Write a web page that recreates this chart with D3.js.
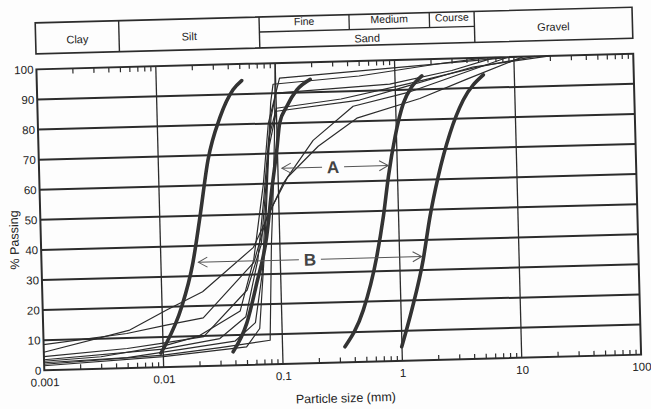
<!DOCTYPE html>
<html><head><meta charset="utf-8">
<script src="https://cdn.jsdelivr.net/npm/d3@7"></script>
<style>
body{margin:0;background:#fff}
svg{display:block}
text{font-family:"Liberation Sans",Arial,sans-serif;fill:#222}
</style>
</head><body>
<svg id="chart" width="651" height="409"></svg>
<script>
// ---------- data ----------
const xTickValues = [0.001, 0.01, 0.1, 1, 10, 100];
const xTickLabels = ["0.001", "0.01", "0.1", "1", "10", "100"];
const yTickValues = [0, 10, 20, 30, 40, 50, 60, 70, 80, 90, 100];
const soilClasses = ["Clay", "Silt", "Sand", "Gravel"];
const soilBounds  = [0.001, 0.005, 0.075, 4.75, 100];
const sandClasses = ["Fine", "Medium", "Course"];
const sandBounds  = [0.075, 0.425, 2, 4.75];

// bold gradation curves: [particle size mm, % passing]
const bold1 = [[0.00955,4.7],[0.0107,8],[0.0146,19.9],[0.0185,34.3],[0.0217,49.5],[0.0261,68.4],[0.0337,82.6],[0.0438,91.5],[0.052,94.5]];
const bold2 = [[0.0385,4.5],[0.0507,13.8],[0.0627,27],[0.0778,42.4],[0.0879,57.9],[0.0988,71.1],[0.106,80.1],[0.122,85.4],[0.15,90.9],[0.195,94.3]];
const bold3 = [[0.333,5.2],[0.483,17.2],[0.643,34.8],[0.745,48],[0.838,61.3],[0.973,74.5],[1.16,85.5],[1.38,91],[1.68,94.5]];
const bold4 = [[0.995,4.7],[1.23,16.8],[1.57,33.3],[1.83,47.6],[2.19,60.9],[2.81,75.2],[3.69,86.1],[5.5,94.3]];

// thin gradation curves
const thin1 = [[0.001,6],[0.0053,12.6],[0.011,19],[0.022,24.7],[0.06,39],[0.11,60],[0.2,74],[0.44,85],[1.33,89.3],[9,100]];
const thin2 = [[0.001,8.5],[0.005,11.5],[0.011,14],[0.022,16],[0.06,34],[0.079,49],[0.12,62],[0.22,72],[0.47,81],[1.6,87],[4,93],[12,100]];
const thin3 = [[0.001,4.5],[0.005,6.5],[0.01,8],[0.022,9.8],[0.052,24.9],[0.07,40],[0.08,62],[0.09,82],[0.1,90],[0.9,92],[3,96],[7,100]];
const thin4 = [[0.001,3.5],[0.01,6],[0.03,9],[0.05,16],[0.065,35],[0.075,55],[0.085,75],[0.1,85],[0.35,87.5],[1.3,92],[5,97],[15,100]];
const thin5 = [[0.001,2.5],[0.005,3.5],[0.01,5],[0.04,8],[0.06,14],[0.07,30],[0.08,60],[0.09,87],[0.095,93],[0.5,95],[2.5,98.5],[6,100]];
const thin6 = [[0.001,2],[0.01,4],[0.03,6],[0.079,8],[0.085,40],[0.0895,54.5],[0.095,75],[0.1,100]];
const thin7 = [[0.001,1.5],[0.01,3.5],[0.05,6],[0.065,12],[0.075,40],[0.085,72],[0.1,84],[0.5,87],[1.2,91],[4.5,97],[20,100]];
const thin8 = [[0.001,3],[0.003,4],[0.01,7],[0.02,10],[0.045,18],[0.06,35],[0.075,60],[0.085,80],[0.108,95],[10.6,100]];

const boldCurves = [bold1, bold2, bold3, bold4];
const thinCurves = [thin1, thin2, thin3, thin4, thin5, thin6, thin7, thin8];

// annotations "A" and "B"
const annotLabels = ["A", "B"];
const annotPct    = [65, 34.5];
const annotFrom   = [0.108, 0.0206];
const annotTo     = [0.84, 1.53];
const annotAt     = [0.29, 0.177];

// ---------- layout ----------
const L = 40.25, T = 61.5, W = 597, H = 301;
const svg = d3.select("#chart");
svg.append("rect").attr("width", 651).attr("height", 409).attr("fill", "#fdfdfd");
const root = svg.append("g").attr("transform", "rotate(-1.5,338.75,212)");

const x = d3.scaleLog().domain([0.001, 100]).range([L, L + W]);
const y = d3.scaleLinear().domain([0, 100]).range([T + H, T]);

const ink = "#2c2c2c";

// ---------- header table ----------
const hTop = 15, hMid = 30, hBot = 46;
const head = root.append("g");
head.append("rect").attr("x", x(soilBounds[0])).attr("y", hTop)
  .attr("width", x(soilBounds[soilBounds.length-1]) - x(soilBounds[0])).attr("height", hBot - hTop)
  .attr("fill", "none").attr("stroke", ink).attr("stroke-width", 1.6);
soilBounds.slice(1, -1).forEach(b => {
  head.append("line").attr("x1", x(b)).attr("x2", x(b)).attr("y1", hTop).attr("y2", hBot)
    .attr("stroke", ink).attr("stroke-width", 1.4);
});
head.append("line").attr("x1", x(sandBounds[0])).attr("x2", x(sandBounds[sandBounds.length-1]))
  .attr("y1", hMid).attr("y2", hMid).attr("stroke", ink).attr("stroke-width", 1.3);
sandBounds.slice(1, -1).forEach(b => {
  head.append("line").attr("x1", x(b)).attr("x2", x(b)).attr("y1", hTop).attr("y2", hMid)
    .attr("stroke", ink).attr("stroke-width", 1.3);
});
soilClasses.forEach((c, i) => {
  const cx = (x(soilBounds[i]) + x(soilBounds[i+1])) / 2;
  const cy = c === "Sand" ? (hMid + hBot) / 2 + 1 : (hTop + hBot) / 2 + 2;
  head.append("text").attr("x", cx).attr("y", cy).attr("dy", "0.35em")
    .attr("text-anchor", "middle").attr("font-size", 11).text(c);
});
sandClasses.forEach((c, i) => {
  const cx = (x(sandBounds[i]) + x(sandBounds[i+1])) / 2;
  head.append("text").attr("x", cx).attr("y", hTop + 5.5).attr("dy", "0.35em")
    .attr("text-anchor", "middle").attr("font-size", 10.5).text(c);
});

// ---------- grid ----------
const grid = root.append("g");
yTickValues.slice(1, -1).forEach(v => {
  grid.append("line").attr("x1", L).attr("x2", L + W).attr("y1", y(v)).attr("y2", y(v))
    .attr("stroke", ink).attr("stroke-width", 2);
});
xTickValues.slice(1, -1).forEach(v => {
  grid.append("line").attr("x1", x(v)).attr("x2", x(v)).attr("y1", T).attr("y2", T + H)
    .attr("stroke", ink).attr("stroke-width", 1.3);
});

// minor ticks (inward) on top and bottom
const minor = [];
xTickValues.slice(0, -1).forEach(d => { for (let k = 2; k <= 9; k++) minor.push(d * k); });
root.append("g").attr("transform", `translate(0,${T + H})`)
  .call(d3.axisBottom(x).tickValues(minor).tickSize(-5).tickFormat(""))
  .call(g => { g.select(".domain").remove(); g.selectAll("line").attr("stroke", ink).attr("stroke-width", 1.2); });
root.append("g").attr("transform", `translate(0,${T})`)
  .call(d3.axisTop(x).tickValues(minor).tickSize(-5).tickFormat(""))
  .call(g => { g.select(".domain").remove(); g.selectAll("line").attr("stroke", ink).attr("stroke-width", 1.2); });

// x labels
root.append("g").attr("transform", `translate(0,${T + H})`)
  .call(d3.axisBottom(x).tickValues(xTickValues).tickSize(0).tickPadding(8)
    .tickFormat((d, i) => xTickLabels[i]))
  .call(g => { g.select(".domain").remove(); g.selectAll("text").attr("font-size", 11.5).style("font-family", "Liberation Sans, Arial, sans-serif").attr("fill", "#222"); });

// y labels
root.append("g").attr("transform", `translate(${L},0)`)
  .call(d3.axisLeft(y).tickValues(yTickValues).tickSize(0).tickPadding(3))
  .call(g => { g.select(".domain").remove(); g.selectAll("text").attr("font-size", 11.5).style("font-family", "Liberation Sans, Arial, sans-serif").attr("fill", "#222"); });

// axis titles
root.append("text").attr("x", 341).attr("y", 398).attr("dy", "0.35em").attr("text-anchor", "middle")
  .attr("font-size", 12.5).text("Particle size (mm)");
root.append("text").attr("transform", "translate(13.5,231.5) rotate(-90)").attr("dy", "0.35em")
  .attr("text-anchor", "middle").attr("font-size", 12.5).text("% Passing");

// ---------- curves ----------
const clip = svg.append("defs").append("clipPath").attr("id", "plotclip");
clip.append("rect").attr("x", L).attr("y", T - 1).attr("width", W).attr("height", H + 2);
const curves = root.append("g").attr("clip-path", "url(#plotclip)");

const thinLine = d3.line().x(d => x(d[0])).y(d => y(d[1])).curve(d3.curveLinear);
thinCurves.forEach(c => {
  curves.append("path").attr("d", thinLine(c)).attr("fill", "none")
    .attr("stroke", ink).attr("stroke-width", 1.2).attr("stroke-linejoin", "round");
});
const boldLine = d3.line().x(d => x(d[0])).y(d => y(d[1])).curve(d3.curveMonotoneX);
boldCurves.forEach(c => {
  curves.append("path").attr("d", boldLine(c)).attr("fill", "none")
    .attr("stroke", "#333").attr("stroke-width", 3.6).attr("stroke-linecap", "round");
});

// frame
root.append("rect").attr("x", L).attr("y", T).attr("width", W).attr("height", H)
  .attr("fill", "none").attr("stroke", ink).attr("stroke-width", 2);

// ---------- annotations ----------
const ann = root.append("g");
annotLabels.forEach((lab, i) => {
  const yy = y(annotPct[i]);
  const x1 = x(annotFrom[i]), x2 = x(annotTo[i]), xt = x(annotAt[i]);
  const gap = 11;
  ann.append("line").attr("x1", x1).attr("x2", xt - gap).attr("y1", yy).attr("y2", yy)
    .attr("stroke", "#555").attr("stroke-width", 1);
  ann.append("line").attr("x1", xt + gap).attr("x2", x2).attr("y1", yy).attr("y2", yy)
    .attr("stroke", "#555").attr("stroke-width", 1);
  ann.append("path").attr("d", `M${x1 + 9},${yy - 5}L${x1},${yy}L${x1 + 9},${yy + 5}`)
    .attr("fill", "none").attr("stroke", "#555").attr("stroke-width", 1);
  ann.append("path").attr("d", `M${x2 - 9},${yy - 5}L${x2},${yy}L${x2 - 9},${yy + 5}`)
    .attr("fill", "none").attr("stroke", "#555").attr("stroke-width", 1);
  ann.append("rect").attr("x", xt - gap + 1).attr("y", yy - 8).attr("width", 2 * gap - 2).attr("height", 16)
    .attr("fill", "#fdfdfd");
  ann.append("text").attr("x", xt).attr("y", yy).attr("dy", "0.36em").attr("text-anchor", "middle")
    .attr("font-size", 17).attr("font-weight", "bold").style("fill", "#444").text(lab);
});
</script>
</body></html>
